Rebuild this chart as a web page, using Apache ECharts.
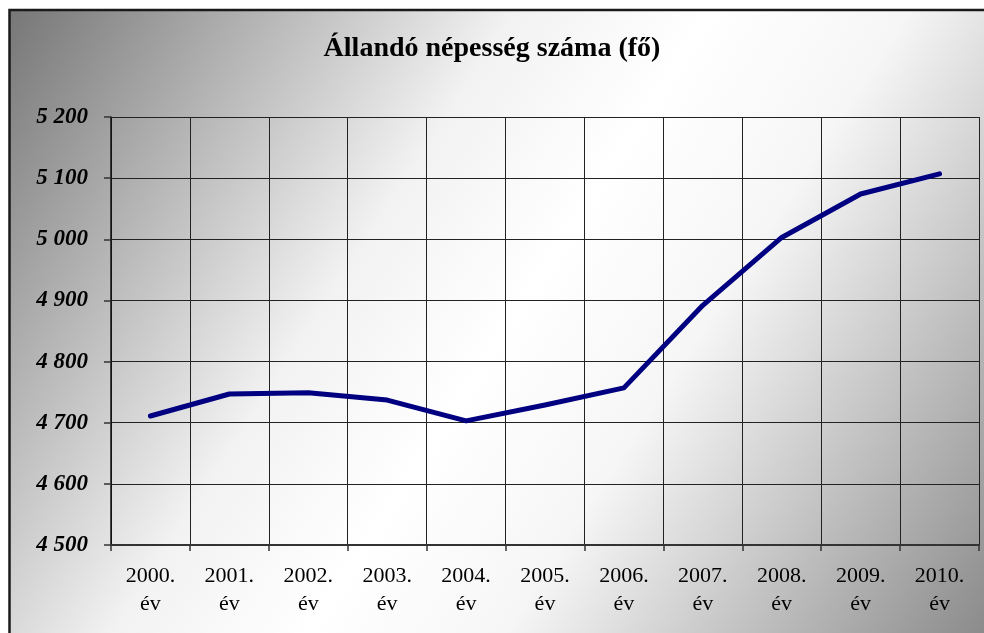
<!DOCTYPE html>
<html>
<head>
<meta charset="utf-8">
<script src="https://cdn.jsdelivr.net/npm/echarts@6/dist/echarts.min.js"></script>
<style>
html,body{margin:0;padding:0;background:#fff;}
#chart{width:984px;height:633px;}
</style>
</head>
<body>
<div id="chart"></div>
<script>
const titleText = "Állandó népesség száma (fő)";
const categories = ["2000.\név","2001.\név","2002.\név","2003.\név","2004.\név","2005.\név","2006.\név","2007.\név","2008.\név","2009.\név","2010.\név"];
const population = [4711, 4747, 4749, 4737, 4703, 4729, 4757, 4892, 5003, 5074, 5107];
const yMin = 4500, yMax = 5200, yStep = 100;

function fmt(v){
  const s = String(Math.round(v));
  return s.replace(/\B(?=(\d{3})+(?!\d))/g, " ");
}

const chart = echarts.init(document.getElementById('chart'), null, {renderer:'canvas'});
chart.setOption({
  animation:false,
  backgroundColor:'#ffffff',
  graphic:[{
    type:'rect', z:-100, silent:true,
    shape:{x:9.5,y:10,width:990,height:640},
    style:{
      fill:{type:'linear',x:0,y:0,x2:1,y2:1,colorStops:[
        {offset:0,color:'#767676'},
        {offset:0.36,color:'#f2f2f2'},
        {offset:0.5,color:'#ffffff'},
        {offset:0.64,color:'#f6f6f6'},
        {offset:1,color:'#858585'}
      ]},
      stroke:'#1a1a1a', lineWidth:2.5
    }
  }],
  title:{
    text:titleText, left:'center', top:30,
    textStyle:{fontFamily:'"Liberation Serif","Times New Roman",serif',fontWeight:'bold',fontSize:28,color:'#000'}
  },
  grid:{left:111,top:117,right:5,bottom:88,containLabel:false},
  xAxis:{
    type:'category', data:categories, boundaryGap:true,
    axisLine:{show:true,lineStyle:{color:'#333',width:2}},
    axisTick:{show:true,inside:false,length:6,lineStyle:{color:'#333',width:1.5}},
    axisLabel:{margin:17,fontFamily:'"Liberation Serif","Times New Roman",serif',fontSize:22,lineHeight:28,color:'#000',interval:0},
    splitLine:{show:true,lineStyle:{color:'#222',width:1}}
  },
  yAxis:{
    type:'value', min:yMin, max:yMax, interval:yStep,
    axisLine:{show:true,lineStyle:{color:'#111',width:1.5}},
    axisTick:{show:true,inside:false,length:7,lineStyle:{color:'#333',width:1.5}},
    axisLabel:{margin:23,formatter:fmt,fontFamily:'"Liberation Serif","Times New Roman",serif',fontStyle:'italic',fontWeight:'bold',fontSize:23,color:'#000'},
    splitLine:{show:true,lineStyle:{color:'#222',width:1}}
  },
  series:[{
    type:'line', data:population, symbol:'none',
    lineStyle:{color:'#000080',width:5,join:'round',cap:'round'}
  }]
});
</script>
</body>
</html>
